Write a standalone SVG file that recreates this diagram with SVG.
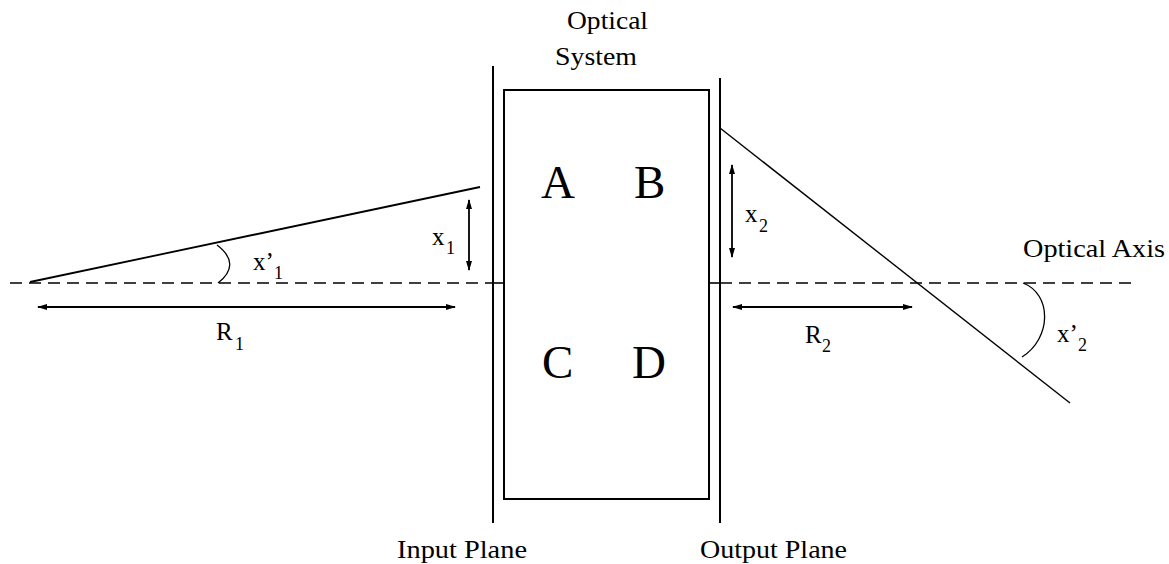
<svg xmlns="http://www.w3.org/2000/svg" width="1169" height="564" viewBox="0 0 1169 564">
<style>
.t{font-family:"Liberation Serif","Times New Roman",serif;font-size:25px;fill:#000}
.lbl{font-family:"Liberation Serif","Times New Roman",serif;font-size:25px;fill:#000}
.sub{font-size:18px}
.big{font-family:"Liberation Serif","Times New Roman",serif;font-size:47px;fill:#000}
.ln{stroke:#000;fill:none}
.axis{stroke:#000;stroke-width:1.6;stroke-dasharray:12 7;fill:none}
.dim{stroke:#000;stroke-width:1.8;fill:none;marker-start:url(#ah);marker-end:url(#ah)}
</style>
<defs>
<marker id="ah" viewBox="0 0 10 6" refX="9" refY="3" markerWidth="11" markerHeight="6" markerUnits="userSpaceOnUse" orient="auto-start-reverse">
<path d="M0,0 L10,3 L0,6 Z" fill="#000"/>
</marker>
</defs>
<rect width="1169" height="564" fill="#fff"/>

<g id="input-plane">
<line class="ln" stroke-width="2" x1="493" y1="66" x2="493" y2="523"/>
<text class="t" x="397" y="558" textLength="130" lengthAdjust="spacingAndGlyphs">Input Plane</text>
</g>

<g id="optical-system">
<rect class="ln" stroke-width="2" x="504" y="90" width="205" height="409"/>
<text class="t" x="567" y="29" textLength="81" lengthAdjust="spacingAndGlyphs">Optical</text>
<text class="t" x="555" y="65" textLength="82" lengthAdjust="spacingAndGlyphs">System</text>
<text class="big" x="541" y="198">A</text>
<text class="big" x="634" y="198">B</text>
<text class="big" x="542" y="378">C</text>
<text class="big" x="632" y="378">D</text>
</g>

<g id="output-plane">
<line class="ln" stroke-width="2" x1="720" y1="78" x2="720" y2="523"/>
<text class="t" x="700" y="558" textLength="147" lengthAdjust="spacingAndGlyphs">Output Plane</text>
</g>

<g id="optical-axis">
<line class="axis" x1="10" y1="283" x2="493" y2="283"/>
<line class="ln" stroke-width="1.6" x1="493" y1="283" x2="504" y2="283"/>
<line class="ln" stroke-width="1.6" x1="709" y1="283" x2="720" y2="283"/>
<line class="axis" x1="720" y1="283" x2="1138" y2="283"/>
<text class="t" x="1023" y="257" textLength="142" lengthAdjust="spacingAndGlyphs">Optical Axis</text>
</g>

<g id="connectors">
<line class="ln" stroke-width="1.8" x1="30" y1="282" x2="480" y2="187"/>
<line class="ln" stroke-width="1.4" x1="720" y1="128" x2="1070" y2="403"/>
<line class="dim" x1="38" y1="307" x2="455" y2="307"/>
<line class="dim" x1="469" y1="200" x2="469" y2="270"/>
<line class="dim" x1="733" y1="307" x2="912" y2="307"/>
<line class="dim" x1="732" y1="165" x2="732" y2="257"/>
<path class="ln" stroke-width="1.3" d="M217,245 Q242,264 218,283"/>
<path class="ln" stroke-width="1.3" d="M1023,283 C1052,294 1052,338 1022,357"/>
</g>

<g id="labels">
<text class="lbl"><tspan x="432" y="245">x</tspan><tspan class="sub" x="446" y="254">1</tspan></text>
<text class="lbl"><tspan x="253" y="270">x’</tspan><tspan class="sub" x="274" y="279">1</tspan></text>
<text class="lbl"><tspan x="216" y="340">R</tspan><tspan class="sub" x="235" y="350">1</tspan></text>
<text class="lbl"><tspan x="745" y="222">x</tspan><tspan class="sub" x="759" y="232">2</tspan></text>
<text class="lbl"><tspan x="805" y="343">R</tspan><tspan class="sub" x="822" y="352">2</tspan></text>
<text class="lbl"><tspan x="1057" y="342">x’</tspan><tspan class="sub" x="1078" y="351">2</tspan></text>
</g>
</svg>
